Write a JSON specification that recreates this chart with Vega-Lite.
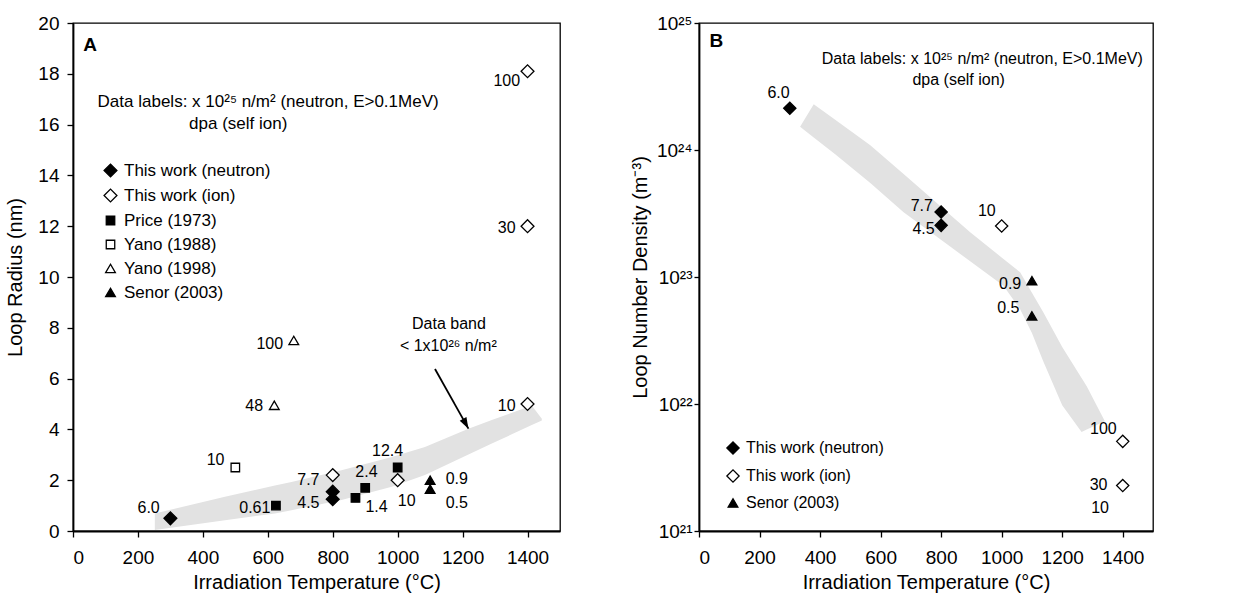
{
  "$schema": "https://vega.github.io/schema/vega-lite/v6.json",
  "padding": {"left": 5, "top": 13, "right": 5, "bottom": 3},
  "background": "white",
  "spacing": 68,
  "config": {
    "font": "Liberation Sans",
    "view": {"stroke": "black", "strokeWidth": 1.3},
    "axis": {"labelFont": "Liberation Sans", "labelFontSize": 19, "titleFont": "Liberation Sans", "titleFontSize": 20, "titleFontWeight": "normal", "labelColor": "black", "titleColor": "black", "domainColor": "black", "tickColor": "black", "domainWidth": 1.8, "tickWidth": 1.3, "tickSize": 6, "grid": false},
    "legend": {"labelFont": "Liberation Sans", "labelColor": "black", "padding": 0, "symbolStrokeWidth": 1.3, "labelOffset": 5},
    "text": {"font": "Liberation Sans", "fontSize": 16, "color": "black"}
  },
  "datasets": {
    "ptsA": [
      {"series": "This work (neutron)", "x": 300, "y": 0.5},
      {"series": "This work (neutron)", "x": 800, "y": 1.25},
      {"series": "This work (neutron)", "x": 800, "y": 1.55},
      {"series": "This work (ion)", "x": 800, "y": 2.2},
      {"series": "This work (ion)", "x": 1000, "y": 2.0},
      {"series": "This work (ion)", "x": 1400, "y": 5.0},
      {"series": "This work (ion)", "x": 1400, "y": 12.0},
      {"series": "This work (ion)", "x": 1400, "y": 18.1},
      {"series": "Price (1973)", "x": 625, "y": 1.0},
      {"series": "Price (1973)", "x": 870, "y": 1.3},
      {"series": "Price (1973)", "x": 900, "y": 1.7},
      {"series": "Price (1973)", "x": 1000, "y": 2.5},
      {"series": "Yano (1988)", "x": 500, "y": 2.5},
      {"series": "Yano (1998)", "x": 620, "y": 4.95},
      {"series": "Yano (1998)", "x": 680, "y": 7.5},
      {"series": "Senor (2003)", "x": 1100, "y": 2.0},
      {"series": "Senor (2003)", "x": 1100, "y": 1.65}
    ],
    "bandA": [
      {"x": 252, "lo": 0.04, "hi": 0.69},
      {"x": 468, "lo": 0.42, "hi": 1.35},
      {"x": 622, "lo": 0.69, "hi": 1.79},
      {"x": 673, "lo": 0.82, "hi": 1.93},
      {"x": 827, "lo": 1.22, "hi": 2.39},
      {"x": 982, "lo": 1.74, "hi": 2.91},
      {"x": 1084, "lo": 2.2, "hi": 3.31},
      {"x": 1218, "lo": 3.01, "hi": 4.03},
      {"x": 1290, "lo": 3.44, "hi": 4.37},
      {"x": 1413, "lo": 4.17, "hi": 4.94},
      {"x": 1444, "lo": 4.35, "hi": 4.42}
    ],
    "lblA": [
      {"t": "6.0", "x": 233, "y": 0.89},
      {"t": "0.61", "x": 560, "y": 0.89},
      {"t": "4.5", "x": 725, "y": 1.09},
      {"t": "7.7", "x": 725, "y": 2.0},
      {"t": "2.4", "x": 904, "y": 2.33},
      {"t": "1.4", "x": 935, "y": 0.93},
      {"t": "12.4", "x": 969, "y": 3.15},
      {"t": "10", "x": 1028, "y": 1.18},
      {"t": "0.9", "x": 1182, "y": 2.03},
      {"t": "0.5", "x": 1182, "y": 1.11},
      {"t": "10", "x": 1336, "y": 4.94},
      {"t": "10", "x": 439, "y": 2.78},
      {"t": "48", "x": 558, "y": 4.94},
      {"t": "100", "x": 606, "y": 7.38},
      {"t": "30", "x": 1336, "y": 11.93},
      {"t": "100", "x": 1336, "y": 17.7},
      {"t": "Data band", "x": 1158, "y": 8.14},
      {"t": "< 1x10²⁶ n/m²", "x": 1156, "y": 7.29}
    ],
    "noteA": [
      {"t": "Data labels: x 10²⁵ n/m² (neutron, E>0.1MeV)", "x": 601, "y": 16.9},
      {"t": "dpa (self ion)", "x": 509, "y": 16.04}
    ],
    "letterA": [{"t": "A", "x": 53, "y": 19.13}],
    "arrowA": [{"x": 1115, "y": 6.38, "x2": 1218, "y2": 4.03}],
    "ptsB": [
      {"series": "This work (neutron)", "x": 300, "y": 2.13e24},
      {"series": "This work (neutron)", "x": 800, "y": 3.25e23},
      {"series": "This work (neutron)", "x": 800, "y": 2.55e23},
      {"series": "This work (ion)", "x": 1000, "y": 2.52e23},
      {"series": "This work (ion)", "x": 1400, "y": 5.08e21},
      {"series": "This work (ion)", "x": 1400, "y": 2.28e21},
      {"series": "Senor (2003)", "x": 1100, "y": 9.35e22},
      {"series": "Senor (2003)", "x": 1100, "y": 4.94e22}
    ],
    "bandB": [
      {"x": 334, "lo": 1.524e24, "hi": 1.524e24},
      {"x": 379, "lo": 1.256e24, "hi": 2.291e24},
      {"x": 450, "lo": 9.27e23, "hi": 1.73e24},
      {"x": 566, "lo": 5.5e23, "hi": 1.09e24},
      {"x": 676, "lo": 3.24e23, "hi": 6.46e23},
      {"x": 731, "lo": 2.59e23, "hi": 4.97e23},
      {"x": 841, "lo": 1.66e23, "hi": 2.93e23},
      {"x": 896, "lo": 1.33e23, "hi": 2.25e23},
      {"x": 1006, "lo": 8.53e22, "hi": 1.387e23},
      {"x": 1061, "lo": 5.58e22, "hi": 1.089e23},
      {"x": 1100, "lo": 3.63e22, "hi": 7.52e22},
      {"x": 1138, "lo": 2.15e22, "hi": 5.25e22},
      {"x": 1200, "lo": 9.77e21, "hi": 2.81e22},
      {"x": 1264, "lo": 6.03e21, "hi": 1.6e22},
      {"x": 1281, "lo": 6.31e21, "hi": 1.38e22},
      {"x": 1341, "lo": 7.31e21, "hi": 7.31e21}
    ],
    "lblB": [
      {"t": "6.0", "x": 263, "y": 2.83e24},
      {"t": "7.7", "x": 736, "y": 3.62e23},
      {"t": "4.5", "x": 742, "y": 2.39e23},
      {"t": "10", "x": 951, "y": 3.3e23},
      {"t": "0.9", "x": 1028, "y": 8.81e22},
      {"t": "0.5", "x": 1022, "y": 5.75e22},
      {"t": "100", "x": 1336, "y": 6.37e21},
      {"t": "30", "x": 1320, "y": 2.31e21},
      {"t": "10", "x": 1325, "y": 1.51e21},
      {"t": "Data labels: x 10²⁵ n/m² (neutron, E>0.1MeV)", "x": 936, "y": 5.19e24},
      {"t": "dpa (self ion)", "x": 858, "y": 3.54e24}
    ],
    "letterB": [{"t": "B", "x": 57, "y": 7.16e24}]
  },
  "hconcat": [
    {
      "width": 487,
      "height": 508,
      "layer": [
        {
          "data": {"name": "bandA"},
          "mark": {"type": "area", "fill": "#e2e2e2", "stroke": null},
          "encoding": {
            "x": {"field": "x", "type": "quantitative", "scale": {"domain": [0, 1500], "nice": false}, "axis": {"title": "Irradiation Temperature (°C)", "values": [0, 200, 400, 600, 800, 1000, 1200, 1400], "format": "d", "labelPadding": 11, "titlePadding": 5}},
            "y": {"field": "lo", "type": "quantitative", "scale": {"domain": [0, 20], "nice": false}, "axis": {"title": "Loop Radius (nm)", "values": [0, 2, 4, 6, 8, 10, 12, 14, 16, 18, 20], "format": "d", "labelPadding": 8, "titlePadding": 12}},
            "y2": {"field": "hi"}
          }
        },
        {
          "data": {"name": "arrowA"},
          "mark": {"type": "rule", "color": "black", "strokeWidth": 1.8},
          "encoding": {
            "x": {"field": "x", "type": "quantitative"},
            "y": {"field": "y", "type": "quantitative"},
            "x2": {"field": "x2"},
            "y2": {"field": "y2"}
          }
        },
        {
          "data": {"name": "arrowA"},
          "mark": {"type": "point", "shape": "M0,0L-0.45,1.3L0.45,1.3Z", "size": 289, "angle": 151, "filled": true, "color": "black", "opacity": 1},
          "encoding": {
            "x": {"field": "x2", "type": "quantitative"},
            "y": {"field": "y2", "type": "quantitative"}
          }
        },
        {
          "data": {"name": "ptsA"},
          "mark": {"type": "point", "filled": true, "strokeWidth": 1.3, "opacity": 1},
          "encoding": {
            "x": {"field": "x", "type": "quantitative"},
            "y": {"field": "y", "type": "quantitative"},
            "shape": {"field": "series", "type": "nominal", "scale": {"domain": ["This work (neutron)", "This work (ion)", "Price (1973)", "Yano (1988)", "Yano (1998)", "Senor (2003)"], "range": ["diamond", "diamond", "square", "square", "triangle-up", "triangle-up"]}, "legend": {"orient": "none", "legendX": 29, "legendY": 139, "title": null, "rowPadding": 6, "labelFontSize": 17}},
            "fill": {"field": "series", "type": "nominal", "scale": {"domain": ["This work (neutron)", "This work (ion)", "Price (1973)", "Yano (1988)", "Yano (1998)", "Senor (2003)"], "range": ["black", "white", "black", "white", "white", "black"]}, "legend": {"orient": "none", "legendX": 29, "legendY": 139, "title": null, "rowPadding": 6, "labelFontSize": 17}},
            "stroke": {"field": "series", "type": "nominal", "scale": {"domain": ["This work (neutron)", "This work (ion)", "Price (1973)", "Yano (1988)", "Yano (1998)", "Senor (2003)"], "range": ["black", "black", "black", "black", "black", "black"]}, "legend": {"orient": "none", "legendX": 29, "legendY": 139, "title": null, "rowPadding": 6, "labelFontSize": 17}},
            "size": {"field": "series", "type": "nominal", "scale": {"type": "ordinal", "domain": ["This work (neutron)", "This work (ion)", "Price (1973)", "Yano (1988)", "Yano (1998)", "Senor (2003)"], "range": [165, 165, 72, 72, 95, 95]}, "legend": {"orient": "none", "legendX": 29, "legendY": 139, "title": null, "rowPadding": 6, "labelFontSize": 17}}
          }
        },
        {
          "data": {"name": "lblA"},
          "mark": {"type": "text", "align": "center", "baseline": "middle", "fontSize": 16},
          "encoding": {
            "x": {"field": "x", "type": "quantitative"},
            "y": {"field": "y", "type": "quantitative"},
            "text": {"field": "t"}
          }
        },
        {
          "data": {"name": "noteA"},
          "mark": {"type": "text", "align": "center", "baseline": "middle", "fontSize": 17},
          "encoding": {
            "x": {"field": "x", "type": "quantitative"},
            "y": {"field": "y", "type": "quantitative"},
            "text": {"field": "t"}
          }
        },
        {
          "data": {"name": "letterA"},
          "mark": {"type": "text", "align": "center", "baseline": "middle", "fontSize": 19, "fontWeight": "bold"},
          "encoding": {
            "x": {"field": "x", "type": "quantitative"},
            "y": {"field": "y", "type": "quantitative"},
            "text": {"field": "t"}
          }
        }
      ]
    },
    {
      "width": 454,
      "height": 508,
      "layer": [
        {
          "data": {"name": "bandB"},
          "mark": {"type": "area", "fill": "#e2e2e2", "stroke": null},
          "encoding": {
            "x": {"field": "x", "type": "quantitative", "scale": {"domain": [0, 1500], "nice": false}, "axis": {"title": "Irradiation Temperature (°C)", "values": [0, 200, 400, 600, 800, 1000, 1200, 1400], "format": "d", "labelPadding": 11, "titlePadding": 5}},
            "y": {"field": "lo", "type": "quantitative", "scale": {"type": "log", "domain": [1e21, 1e25], "nice": false}, "axis": {"title": "Loop Number Density (m⁻³)", "values": [1e21, 1e22, 1e23, 1e24, 1e25], "labelExpr": "datum.value < 5e21 ? '10²¹' : datum.value < 5e22 ? '10²²' : datum.value < 5e23 ? '10²³' : datum.value < 5e24 ? '10²⁴' : '10²⁵'", "tickSize": 5, "labelPadding": 2, "titlePadding": 6}},
            "y2": {"field": "hi"}
          }
        },
        {
          "data": {"name": "ptsB"},
          "mark": {"type": "point", "filled": true, "strokeWidth": 1.3, "opacity": 1},
          "encoding": {
            "x": {"field": "x", "type": "quantitative"},
            "y": {"field": "y", "type": "quantitative"},
            "shape": {"field": "series", "type": "nominal", "scale": {"domain": ["This work (neutron)", "This work (ion)", "Senor (2003)"], "range": ["diamond", "diamond", "triangle-up"]}, "legend": {"orient": "none", "legendX": 26, "legendY": 417, "title": null, "rowPadding": 10, "labelFontSize": 16}},
            "fill": {"field": "series", "type": "nominal", "scale": {"domain": ["This work (neutron)", "This work (ion)", "Senor (2003)"], "range": ["black", "white", "black"]}, "legend": {"orient": "none", "legendX": 26, "legendY": 417, "title": null, "rowPadding": 10, "labelFontSize": 16}},
            "stroke": {"field": "series", "type": "nominal", "scale": {"domain": ["This work (neutron)", "This work (ion)", "Senor (2003)"], "range": ["black", "black", "black"]}, "legend": {"orient": "none", "legendX": 26, "legendY": 417, "title": null, "rowPadding": 10, "labelFontSize": 16}},
            "size": {"field": "series", "type": "nominal", "scale": {"type": "ordinal", "domain": ["This work (neutron)", "This work (ion)", "Senor (2003)"], "range": [150, 150, 95]}, "legend": {"orient": "none", "legendX": 26, "legendY": 417, "title": null, "rowPadding": 10, "labelFontSize": 16}}
          }
        },
        {
          "data": {"name": "lblB"},
          "mark": {"type": "text", "align": "center", "baseline": "middle", "fontSize": 16},
          "encoding": {
            "x": {"field": "x", "type": "quantitative"},
            "y": {"field": "y", "type": "quantitative"},
            "text": {"field": "t"}
          }
        },
        {
          "data": {"name": "letterB"},
          "mark": {"type": "text", "align": "center", "baseline": "middle", "fontSize": 19, "fontWeight": "bold"},
          "encoding": {
            "x": {"field": "x", "type": "quantitative"},
            "y": {"field": "y", "type": "quantitative"},
            "text": {"field": "t"}
          }
        }
      ]
    }
  ],
  "resolve": {
    "scale": {"shape": "independent", "fill": "independent", "stroke": "independent", "size": "independent", "x": "independent", "y": "independent"},
    "legend": {"shape": "independent", "fill": "independent", "stroke": "independent", "size": "independent"}
  }
}
